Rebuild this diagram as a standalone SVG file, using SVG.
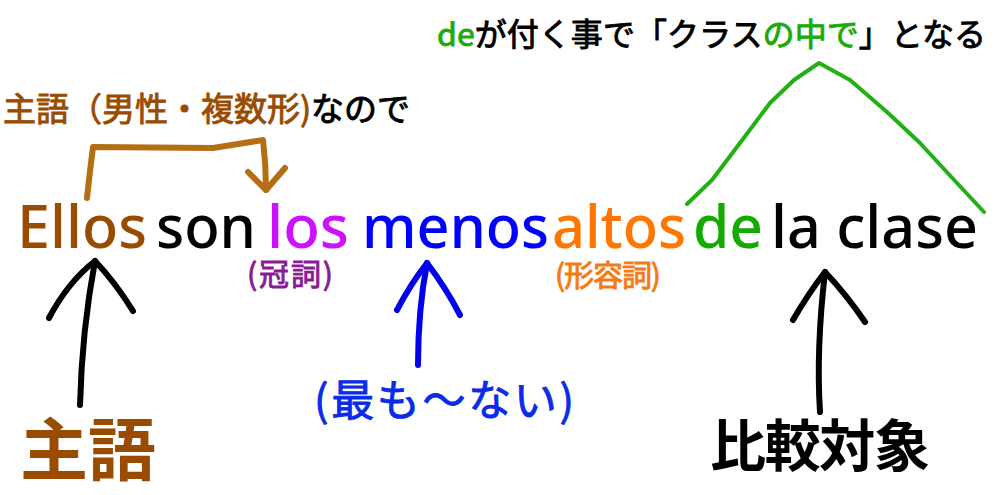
<svg xmlns="http://www.w3.org/2000/svg" width="999" height="495" viewBox="0 0 999 495">
<style>
  .jp { font-family: "Noto Sans CJK JP", "Noto Sans", sans-serif; font-weight: 400; stroke-width: 0.9px; }
  .jpb { font-family: "Noto Sans CJK JP", "Noto Sans", sans-serif; font-weight: 700; }
  .lat { font-family: "Noto Sans", "Liberation Sans", sans-serif; font-size: 60px; font-weight: 500; }
  .brown { fill: #994c00; stroke: #994c00; }
  .green { fill: #1aaa0a; stroke: #1aaa0a; }
  .blk { fill: #000000; stroke: #000000; }
  .stroke { fill: none; stroke-linecap: round; stroke-linejoin: round; }
</style>
<rect width="999" height="495" fill="#ffffff"/>

<g id="connectors">
  <path class="stroke" stroke="#b46e14" stroke-width="6" d="M87,198 Q90,170 93,147 L213,148 L263,140 Q266,165 266,190"/>
  <path class="stroke" stroke="#b46e14" stroke-width="6" d="M248,172 L266,190 L285,168"/>
  <path class="stroke" stroke="#22b014" stroke-width="4" d="M687,204 L712,180 L740,143 L770,103 L794,80 L819,63 L850,80 L887,112 L920,143 L943,168 L984,212"/>
  <path class="stroke" stroke="#000000" stroke-width="6" d="M80,405 Q82,330 95,261"/>
  <path class="stroke" stroke="#000000" stroke-width="6" d="M49,318 Q68,282 95,261 Q115,282 133,311"/>
  <path class="stroke" stroke="#0000ee" stroke-width="6" d="M418,365 Q418,310 427,263"/>
  <path class="stroke" stroke="#0000ee" stroke-width="6" d="M397,310 Q410,285 427,263 Q446,288 460,315"/>
  <path class="stroke" stroke="#000000" stroke-width="6" d="M820,412 Q816,350 825,272"/>
  <path class="stroke" stroke="#000000" stroke-width="6" d="M793,320 Q808,294 825,272 Q846,294 865,322"/>
</g>

<g id="label-subject-note">
  <text class="jp" x="3" y="121" font-size="33" textLength="407" lengthAdjust="spacing"><tspan class="brown">主語（男性・複数形)</tspan><tspan class="blk">なので</tspan></text>
</g>

<g id="label-de-note">
  <text class="jp" x="437" y="46" font-size="32" textLength="549" lengthAdjust="spacing"><tspan class="green">de</tspan><tspan class="blk">が付く事で「クラス</tspan><tspan class="green">の中で</tspan><tspan class="blk">」となる</tspan></text>
</g>

<g id="sentence">
  <text id="w-ellos" class="lat" x="17" y="248" fill="#994c00" textLength="130" lengthAdjust="spacingAndGlyphs">Ellos</text>
  <text id="w-son" class="lat" x="156" y="248" fill="#000000" textLength="100" lengthAdjust="spacingAndGlyphs">son</text>
  <text id="w-los" class="lat" x="267" y="248" fill="#cc11ff" textLength="82" lengthAdjust="spacingAndGlyphs">los</text>
  <text id="w-menos" class="lat" x="362" y="248" fill="#0000ff" textLength="187" lengthAdjust="spacingAndGlyphs">menos</text>
  <text id="w-altos" class="lat" x="552" y="248" fill="#ff7700" textLength="134" lengthAdjust="spacingAndGlyphs">altos</text>
  <text id="w-de" class="lat" x="693" y="248" fill="#14aa00" textLength="70" lengthAdjust="spacingAndGlyphs">de</text>
  <text id="w-laclase" class="lat" x="771" y="248" fill="#000000" textLength="207" lengthAdjust="spacingAndGlyphs">la clase</text>
</g>

<g id="label-article">
  <text class="jp" x="247" y="285" font-size="30" fill="#8a1a96" stroke="#8a1a96" textLength="86" lengthAdjust="spacing">(冠詞)</text>
</g>

<g id="label-adjective">
  <text class="jp" x="555" y="286" font-size="30" fill="#f57a14" stroke="#f57a14" textLength="106" lengthAdjust="spacing">(形容詞)</text>
</g>

<g id="label-subject">
  <text class="jpb" x="20" y="475" font-size="68" fill="#994c00" textLength="136" lengthAdjust="spacing">主語</text>
</g>

<g id="label-least">
  <text class="jp" x="314" y="416" font-size="43" fill="#0a2be8" stroke="#0a2be8" stroke-width="1.2" textLength="260" lengthAdjust="spacing">(最も〜ない)</text>
</g>

<g id="label-comparison">
  <text class="jpb" x="710" y="466" font-size="56" fill="#000000" textLength="220" lengthAdjust="spacing">比較対象</text>
</g>
</svg>
